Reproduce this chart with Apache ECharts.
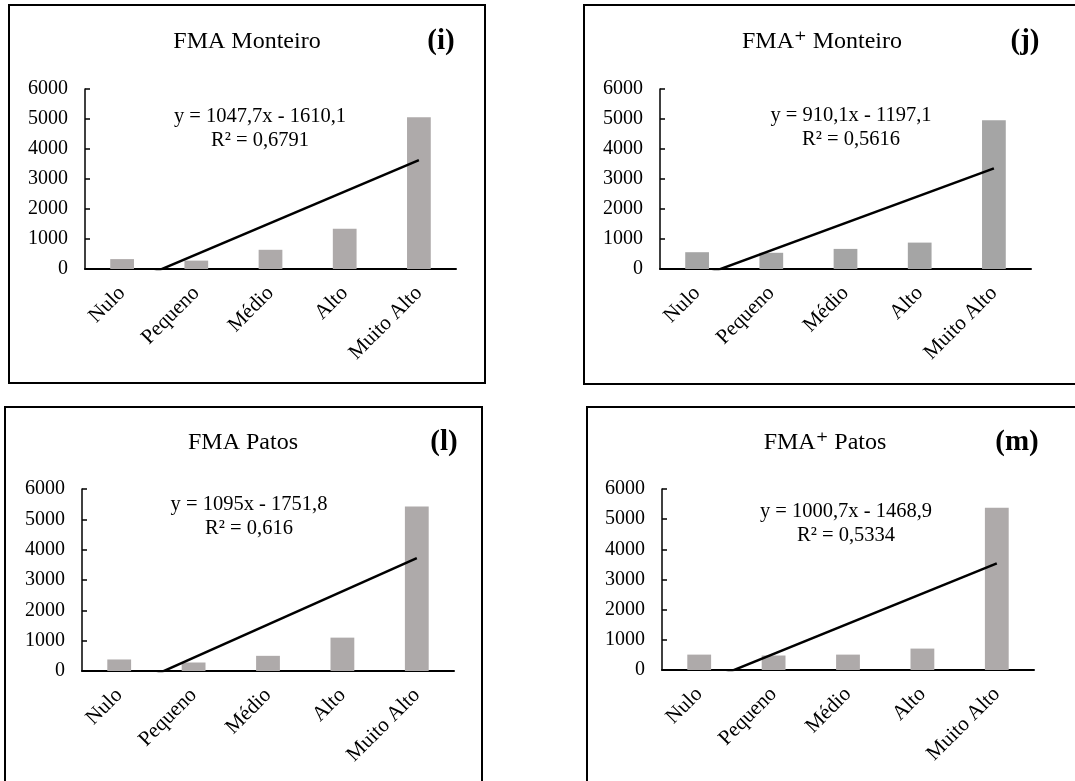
<!DOCTYPE html>
<html>
<head>
<meta charset="utf-8">
<script src="https://cdn.jsdelivr.net/npm/echarts@6/dist/echarts.min.js"></script>
<style>
html,body{margin:0;padding:0;background:#fff;}
#chart{width:1075px;height:781px;}
</style>
</head>
<body>
<div id="chart"></div>
<script>
// ---- data ----
const categories = ['Nulo', 'Pequeno', 'Médio', 'Alto', 'Muito Alto'];
const valuesI = [330, 280, 640, 1340, 5060];
const valuesJ = [560, 540, 670, 880, 4960];
const valuesL = [380, 280, 500, 1100, 5420];
const valuesM = [510, 480, 510, 710, 5380];
const yTickLabels = ['0', '1000', '2000', '3000', '4000', '5000', '6000'];
const panelTitles = ['FMA Monteiro', 'FMA\u207A Monteiro', 'FMA Patos', 'FMA\u207A Patos'];
const panelLetters = ['(i)', '(j)', '(l)', '(m)'];
const trendSlopes = [1047.7, 910.1, 1095, 1000.7];
const trendIntercepts = [-1610.1, -1197.1, -1751.8, -1468.9];
const equationTexts = ['y = 1047,7x - 1610,1', 'y = 910,1x - 1197,1', 'y = 1095x - 1751,8', 'y = 1000,7x - 1468,9'];
const r2Texts = ['R\u00B2 = 0,6791', 'R\u00B2 = 0,5616', 'R\u00B2 = 0,616', 'R\u00B2 = 0,5334'];

// ---- layout ----
const panelValues = [valuesI, valuesJ, valuesL, valuesM];
const barColors = ['#aeaaaa', '#a5a5a5', '#aeaaaa', '#aeaaaa'];
const grids = [
  {left: 85, top: 89, width: 371, height: 180},
  {left: 660, top: 89, width: 371, height: 180},
  {left: 82, top: 489, width: 372, height: 182},
  {left: 662, top: 489, width: 372, height: 181}
];
const borders = [
  {x: 9, y: 5, w: 476, h: 378},
  {x: 584, y: 5, w: 520, h: 379},
  {x: 5, y: 407, w: 477, h: 400},
  {x: 587, y: 407, w: 520, h: 400}
];
const titlePos = [[247, 42], [822, 42], [243, 443], [825, 443]];
const letterPos = [[441, 42], [1025, 42], [444, 443], [1017, 443]];
const eqPos = [[260, 117], [851, 116], [249, 505], [846, 512]];

const FONT = '"Liberation Serif", "Times New Roman", "DejaVu Serif", serif';

const option = {
  animation: false,
  backgroundColor: '#fff',
  grid: [], xAxis: [], yAxis: [], series: [], graphic: []
};

for (let k = 0; k < 4; k++) {
  const g = grids[k];
  option.grid.push({left: g.left, top: g.top, width: g.width, height: g.height, containLabel: false});
  option.xAxis.push({
    type: 'category', gridIndex: k, data: categories,
    axisLine: {show: true, lineStyle: {color: '#000', width: 2}},
    axisTick: {show: false},
    axisLabel: {rotate: 45, margin: 21, color: '#000', fontSize: 21, fontFamily: FONT}
  });
  option.xAxis.push({
    type: 'value', gridIndex: k, min: 0.5, max: 5.5, show: false
  });
  option.yAxis.push({
    type: 'value', gridIndex: k, min: 0, max: 6000, interval: 1000,
    splitLine: {show: false},
    axisLine: {show: true, lineStyle: {color: '#000', width: 1.5}},
    axisTick: {show: true, inside: true, length: 5, lineStyle: {color: '#000', width: 1.5}},
    axisLabel: {color: '#000', fontSize: 20, fontFamily: FONT, margin: 17,
      formatter: (v) => yTickLabels[Math.round(v / 1000)] ?? String(v)}
  });
  option.series.push({
    type: 'bar', xAxisIndex: 2 * k, yAxisIndex: k,
    data: panelValues[k], barWidth: '32%',
    itemStyle: {color: barColors[k]}
  });
  const s = trendSlopes[k], b = trendIntercepts[k];
  option.series.push({
    type: 'line', xAxisIndex: 2 * k + 1, yAxisIndex: k,
    data: [[1, s * 1 + b], [5, s * 5 + b]],
    symbol: 'none', clip: true,
    lineStyle: {color: '#000', width: 2.5}, z: 5
  });
  const bd = borders[k];
  option.graphic.push({
    type: 'rect', shape: {x: bd.x, y: bd.y, width: bd.w, height: bd.h},
    style: {fill: 'none', stroke: '#000', lineWidth: 2}, z: 10
  });
  option.graphic.push({
    type: 'text', x: titlePos[k][0], y: titlePos[k][1],
    style: {text: panelTitles[k], font: '24px ' + FONT, fill: '#000', textAlign: 'center', textVerticalAlign: 'middle'}
  });
  option.graphic.push({
    type: 'text', x: letterPos[k][0], y: letterPos[k][1],
    style: {text: panelLetters[k], font: 'bold 29px ' + FONT, fill: '#000', textAlign: 'center', textVerticalAlign: 'middle'}
  });
  option.graphic.push({
    type: 'text', x: eqPos[k][0], y: eqPos[k][1],
    style: {text: equationTexts[k], font: '20.5px ' + FONT, fill: '#000', textAlign: 'center', textVerticalAlign: 'middle'}
  });
  option.graphic.push({
    type: 'text', x: eqPos[k][0], y: eqPos[k][1] + 24,
    style: {text: r2Texts[k], font: '20.5px ' + FONT, fill: '#000', textAlign: 'center', textVerticalAlign: 'middle'}
  });
}

const chart = echarts.init(document.getElementById('chart'), null, {renderer: 'canvas'});
chart.setOption(option);
</script>
</body>
</html>
